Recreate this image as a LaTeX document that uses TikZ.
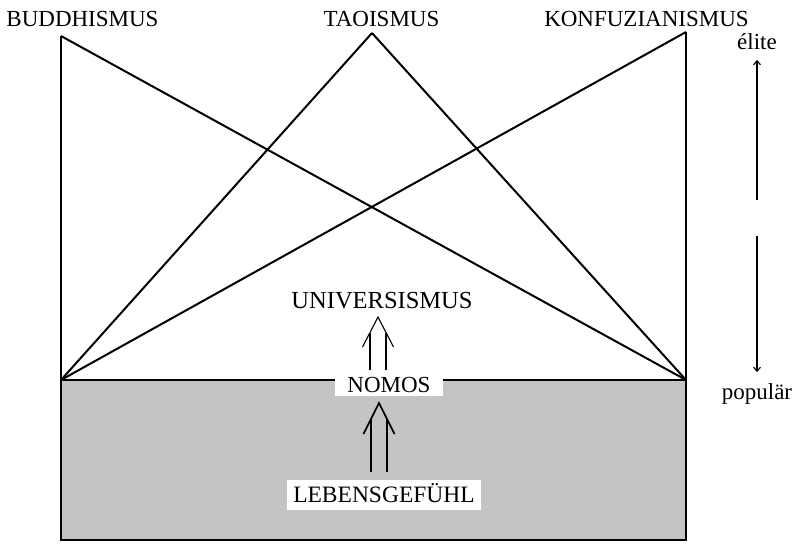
\documentclass[tikz,border=0pt]{standalone}
\usepackage{fontspec}
\setmainfont{Liberation Serif}
\usetikzlibrary{arrows.meta,calc}
\begin{document}
\begin{tikzpicture}[x=1pt,y=-1pt,
  lbl/.style={font=\fontsize{23}{26}\selectfont, inner sep=0pt, anchor=base},
  mainline/.style={line width=2pt},
  dblthin/.style={line width=1.1pt},
  dblthick/.style={line width=1.6pt},
  scalearrow/.style={line width=1.1pt, -{Straight Barb[length=4pt,width=7pt]}},
  whitebox/.style={fill=white, anchor=base}]
\useasboundingbox (0,0) rectangle (800,551);
% corner points
\coordinate (B) at (61,36);
\coordinate (T) at (372,33);
\coordinate (K) at (686,32);
\coordinate (BL) at (61,380);
\coordinate (BR) at (686,380);
\coordinate (BB) at (686,540);
% shaded lower field
\draw[mainline, fill=black!23] (BL) rectangle (BB);
% triangles
\draw[mainline] (B) -- (BL);
\draw[mainline] (B) -- (BR);
\draw[mainline] (K) -- (BR);
\draw[mainline] (K) -- (BL);
\draw[mainline] (T) -- (BL);
\draw[mainline] (T) -- (BR);
% labels
\node[lbl] (bud) at (82.5,27) {BUDDHISMUS};
\node[lbl] (tao) at (381.5,27) {TAOISMUS};
\node[lbl] (kon) at (646.5,27) {KONFUZIANISMUS};
\node[lbl] (eli) at (757,50) {élite};
\node[lbl] (pop) at (757,399) {populär};
\node[lbl, font=\fontsize{24.5}{27}\selectfont] (uni) at (382,308) {UNIVERSISMUS};
\node[lbl, whitebox, inner xsep=12pt, inner ysep=4pt, text depth=0pt] (nom) at (389,392) {NOMOS};
\node[lbl, whitebox, font=\fontsize{23.5}{26}\selectfont, inner xsep=6.7pt, inner ysep=4pt, text height=18pt, text depth=4pt] (leb) at (384,502) {LEBENSGEFÜHL};
% élite / populär scale
\coordinate (s1) at (757,200);
\coordinate (s2) at (757,60);
\coordinate (s3) at (757,236);
\coordinate (s4) at (757,372);
\draw[scalearrow] (s1) -- (s2);
\draw[scalearrow] (s3) -- (s4);
% upper double arrow: NOMOS -> UNIVERSISMUS
\coordinate (ub) at (378,370);
\coordinate (ut) at (378,317);
\draw[dblthin] ($(ub)+(-8,0)$) -- ($(ut)+(-8,15.5)$);
\draw[dblthin] ($(ub)+(8,0)$) -- ($(ut)+(8,15.5)$);
\draw[dblthin] ($(ut)+(-15.5,30)$) -- (ut) -- ($(ut)+(15.5,30)$);
% lower double arrow: LEBENSGEFÜHL -> NOMOS
\coordinate (lb) at (379,472);
\coordinate (lt) at (379,403);
\draw[dblthick] ($(lb)+(-8,0)$) -- ($(lt)+(-8,16)$);
\draw[dblthick] ($(lb)+(8,0)$) -- ($(lt)+(8,16)$);
\draw[dblthick] ($(lt)+(-15.5,31)$) -- (lt) -- ($(lt)+(15.5,31)$);
\end{tikzpicture}
\end{document}
